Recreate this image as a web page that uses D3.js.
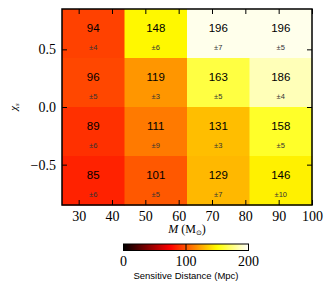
<!DOCTYPE html>
<html><head><meta charset="utf-8">
<script src="https://cdn.jsdelivr.net/npm/d3@7"></script>
<style>body{margin:0;background:#fff}svg{display:block}</style>
</head><body>
<svg id="c" width="332" height="294"></svg>
<script>
const massCenters = [34.375, 53.125, 71.875, 90.625];
const chiCenters = [0.6375, 0.2125, -0.2125, -0.6375];
const distances = [
  [94, 148, 196, 196],
  [96, 119, 163, 186],
  [89, 111, 131, 158],
  [85, 101, 129, 146]
];
const errors = [
  [4, 6, 7, 5],
  [5, 3, 5, 4],
  [6, 9, 3, 5],
  [6, 5, 7, 10]
];
const xTicks = [30, 40, 50, 60, 70, 80, 90, 100];
const yTicks = [0.5, 0.0, -0.5];
const cbTicks = [0, 100, 200];

const svg = d3.select("#c");
const L = 62, R = 312, T = 9, B = 205;
const x = d3.scaleLinear().domain([25, 100]).range([L, R]);
const y = d3.scaleLinear().domain([-0.85, 0.85]).range([B, T]);
const cw = 18.75, ch = 0.425;

function hot(t) {
  t = Math.max(0, Math.min(1, t));
  const r = Math.min(1, Math.max(0, 8 / 3 * t));
  const g = Math.min(1, Math.max(0, 8 / 3 * t - 1));
  const b = Math.min(1, Math.max(0, 4 * t - 3));
  return d3.rgb(r * 255, g * 255, b * 255).toString();
}
const color = d3.scaleSequential(hot).domain([0, 200]);

const cells = [];
distances.forEach((row, i) => row.forEach((v, j) => cells.push({i, j, v, e: errors[i][j]})));

svg.append("g").selectAll("rect").data(cells).join("rect")
  .attr("x", d => x(massCenters[d.j] - cw / 2))
  .attr("y", d => y(chiCenters[d.i] + ch / 2))
  .attr("width", d => x(massCenters[d.j] + cw / 2) - x(massCenters[d.j] - cw / 2) + 0.5)
  .attr("height", d => y(chiCenters[d.i] - ch / 2) - y(chiCenters[d.i] + ch / 2) + 0.5)
  .attr("fill", d => color(d.v));

svg.append("g").selectAll("text").data(cells).join("text")
  .attr("x", d => x(massCenters[d.j]))
  .attr("y", d => y(chiCenters[d.i] + ch / 2) + 23)
  .attr("text-anchor", "middle")
  .attr("font-family", "Liberation Sans, Arial, sans-serif")
  .attr("font-size", 11.5)
  .attr("fill", "#000")
  .text(d => d.v);

svg.append("g").selectAll("text").data(cells).join("text")
  .attr("x", d => x(massCenters[d.j]))
  .attr("y", d => y(chiCenters[d.i] + ch / 2) + 40.5)
  .attr("text-anchor", "middle")
  .attr("font-family", "Liberation Sans, Arial, sans-serif")
  .attr("font-size", 7.5)
  .attr("fill", "#333")
  .text(d => "±" + d.e);

// frame
svg.append("rect").attr("x", L).attr("y", T).attr("width", R - L).attr("height", B - T)
  .attr("fill", "none").attr("stroke", "#000").attr("stroke-width", 1.5);

const serif = "Liberation Serif, Times New Roman, serif";
const gx = svg.append("g").attr("transform", `translate(0,${B})`)
  .call(d3.axisBottom(x).tickValues(xTicks).tickSizeInner(-5).tickSizeOuter(0).tickPadding(6));
const gxt = svg.append("g").attr("transform", `translate(0,${T})`)
  .call(d3.axisTop(x).tickValues(xTicks).tickSizeInner(-5).tickSizeOuter(0).tickFormat(""));
const gy = svg.append("g").attr("transform", `translate(${L},0)`)
  .call(d3.axisLeft(y).tickValues(yTicks).tickSizeInner(-5).tickSizeOuter(0).tickPadding(6)
    .tickFormat(d => d3.format(".1f")(d).replace("-", "\u2212")));
const gyr = svg.append("g").attr("transform", `translate(${R},0)`)
  .call(d3.axisRight(y).tickValues(yTicks).tickSizeInner(-5).tickSizeOuter(0).tickFormat(""));
[gx, gxt, gy, gyr].forEach(g => {
  g.select(".domain").remove();
  g.selectAll("line").attr("stroke", "#000").attr("stroke-width", 1);
  g.selectAll("text").attr("font-family", serif).attr("font-size", 14).attr("fill", "#000");
});

// axis labels
const xl = svg.append("text").attr("x", 187).attr("y", 233).attr("text-anchor", "middle")
  .attr("font-family", serif).attr("font-size", 12);
xl.append("tspan").attr("font-style", "italic").text("M");
xl.append("tspan").text(" (M");
xl.append("tspan").attr("font-size", 7).attr("dy", 1.5).text("\u2299");
xl.append("tspan").attr("dy", -1.5).text(")");

const yl = svg.append("text").attr("transform", "translate(17,107) rotate(-90)")
  .attr("text-anchor", "middle").attr("font-family", serif).attr("font-size", 11);
yl.append("tspan").attr("font-style", "italic").text("\u03c7");
yl.append("tspan").attr("font-style", "italic").attr("font-size", 7).attr("dy", 2).text("s");

// colorbar
const cbx = d3.scaleLinear().domain([0, 200]).range([123.5, 248.5]);
const cbT = 244, cbH = 6.5;
const defs = svg.append("defs");
const grad = defs.append("linearGradient").attr("id", "hotg");
d3.range(0, 1.0001, 0.02).forEach(t => {
  grad.append("stop").attr("offset", t).attr("stop-color", hot(t));
});
svg.append("rect").attr("x", cbx(0)).attr("y", cbT).attr("width", cbx(200) - cbx(0)).attr("height", cbH)
  .attr("fill", "url(#hotg)").attr("stroke", "#000").attr("stroke-width", 1);
svg.append("g").selectAll("line").data(cbTicks.filter(d => d > 0 && d < 200)).join("line")
  .attr("x1", d => cbx(d)).attr("x2", d => cbx(d)).attr("y1", cbT).attr("y2", cbT + cbH)
  .attr("stroke", "#000").attr("stroke-width", 1);
svg.append("g").selectAll("text").data(cbTicks).join("text")
  .attr("x", d => cbx(d)).attr("y", 266).attr("text-anchor", "middle")
  .attr("font-family", serif).attr("font-size", 14).text(d => d);
svg.append("text").attr("x", cbx(100)).attr("y", 279).attr("text-anchor", "middle")
  .attr("font-family", "Liberation Sans, Arial, sans-serif").attr("font-size", 9.5)
  .text("Sensitive Distance (Mpc)");
</script>
</body></html>
